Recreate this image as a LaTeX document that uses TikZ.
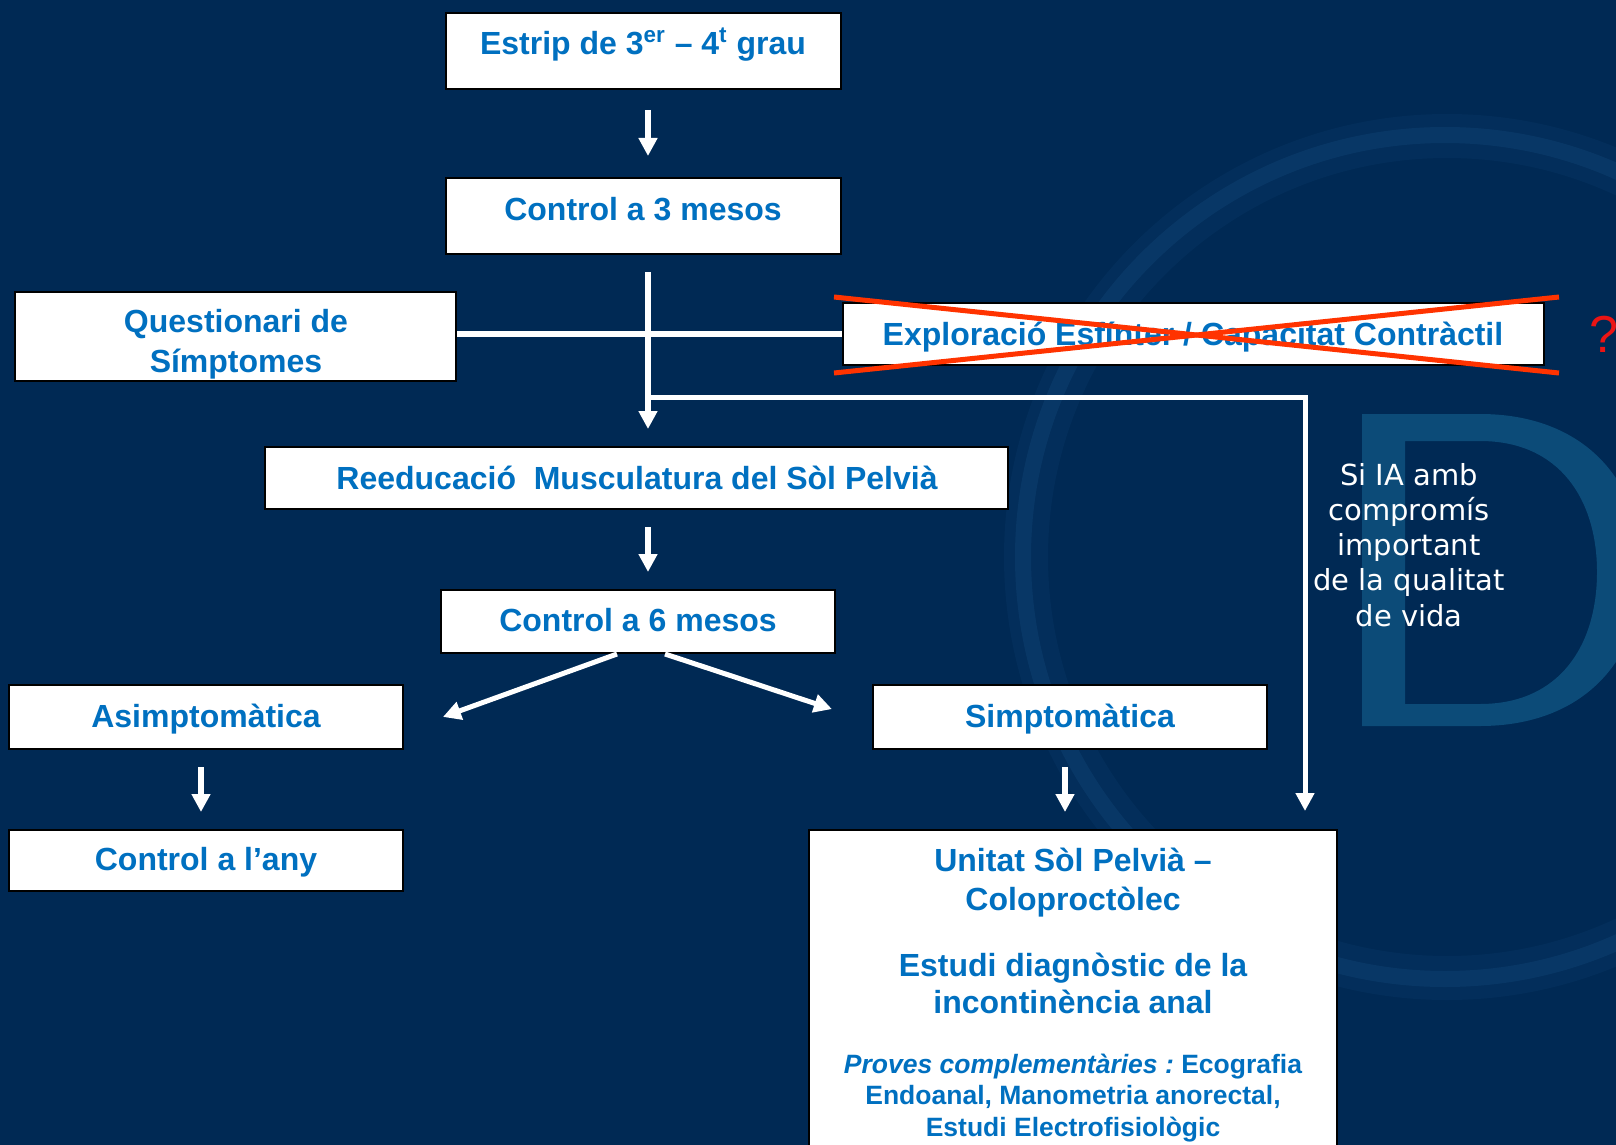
\documentclass[tikz,border=0pt]{standalone}
\usepackage{fontspec}
\setmainfont{Liberation Sans}
\newfontfamily\dejavu{DejaVu Sans}
\usetikzlibrary{arrows.meta}
\definecolor{bgnavy}{RGB}{0,41,84}
\definecolor{tblue}{RGB}{0,112,192}
\definecolor{xred}{RGB}{255,51,0}
\definecolor{qred}{RGB}{235,20,20}
\definecolor{ringc}{RGB}{45,115,175}
\definecolor{dcol}{RGB}{12,75,120}
\begin{document}
\begin{tikzpicture}[x=0.5pt,y=-0.5pt,
  box/.style={draw=black,line width=1pt,fill=white,inner sep=0pt},
  lbl/.style={text=tblue,font=\bfseries\fontsize{16}{19}\selectfont,anchor=base,inner sep=0pt},
  sml/.style={text=tblue,font=\bfseries\fontsize{13.25}{16}\selectfont,anchor=base,inner sep=0pt},
  note/.style={text=white,font=\dejavu\fontsize{14.5}{17.5}\selectfont,anchor=base,inner sep=0pt},
  arr/.style={draw=white,line width=3pt,-{Triangle[length=9pt,width=9pt]}},
  arrd/.style={draw=white,line width=2.5pt,-{Triangle[length=9pt,width=9pt]}},
  wline/.style={draw=white,line width=3pt},
  cross/.style={draw=xred,line width=2.5pt}]
\useasboundingbox (0,0) rectangle (1616,1145);
\clip (0,0) rectangle (1616,1145);
\fill[bgnavy] (0,0) rectangle (1616,1145);
% background logo: soft ring and letter shape
\draw[ringc,opacity=0.08,line width=22pt] (1447,557) circle[radius=210.5pt];
\draw[ringc,opacity=0.14,line width=8pt] (1445,557) circle[radius=211pt];
\fill[dcol,even odd rule]
  (1362,414) -- (1480,414) .. controls (1585,414) and (1642,482) .. (1642,570)
  .. controls (1642,658) and (1585,726) .. (1480,726) -- (1362,726) -- cycle
  (1405,441) -- (1480,441) .. controls (1560,441) and (1597,500) .. (1597,572)
  .. controls (1597,645) and (1560,704) .. (1480,704) -- (1405,704) -- cycle;
% guide coordinates
\coordinate (vx) at (648,0);
\coordinate (rx) at (1305,0);
\coordinate (j1) at (648,397);
% boxes
\node[box,minimum width=197.5pt,minimum height=38pt] (b1) at (643.5,51) {};
\node[box,minimum width=197.5pt,minimum height=38pt] (b2) at (643.5,216) {};
\node[box,minimum width=220.5pt,minimum height=44.5pt] (bq) at (235.5,336.5) {};
\node[box,minimum width=350.5pt,minimum height=31pt] (be) at (1193.5,334) {};
\node[box,minimum width=371.5pt,minimum height=31pt] (br) at (636.5,478) {};
\node[box,minimum width=197pt,minimum height=31.5pt] (b6) at (638,621.5) {};
\node[box,minimum width=197pt,minimum height=32pt] (ba) at (206,717) {};
\node[box,minimum width=197pt,minimum height=32pt] (bs) at (1070,717) {};
\node[box,minimum width=197pt,minimum height=30.5pt] (bc) at (206,860.5) {};
\node[box,minimum width=264pt,minimum height=165pt] (bu) at (1073,995) {};
% texts
\node[lbl] (t1) at (643,55) {Estrip de 3\textsuperscript{er} – 4\textsuperscript{t} grau};
\node[lbl] (t2) at (643,220) {Control a 3 mesos};
\node[lbl] (tq1) at (236,332) {Questionari de};
\node[lbl] (tq2) at (236,372) {Símptomes};
\node[lbl] (te) at (1193,345) {Exploració Esfínter / Capacitat Contràctil};
\node[lbl] (tr) at (637,489) {Reeducació\ \ Musculatura del Sòl Pelvià};
\node[lbl] (t6) at (638,631) {Control a 6 mesos};
\node[lbl] (ta) at (206,727) {Asimptomàtica};
\node[lbl] (ts) at (1070,727) {Simptomàtica};
\node[lbl] (tc) at (206,870) {Control a l’any};
\node[lbl] (u1) at (1073,871) {Unitat Sòl Pelvià –};
\node[lbl] (u2) at (1073,910) {Coloproctòlec};
\node[lbl] (u3) at (1073,976) {Estudi diagnòstic de la};
\node[lbl] (u4) at (1073,1013) {incontinència anal};
\node[sml] (u5) at (1073,1073) {{\itshape Proves complementàries :}\ Ecografia};
\node[sml] (u6) at (1073,1104) {Endoanal, Manometria anorectal,};
\node[sml] (u7) at (1073,1136) {Estudi Electrofisiològic};
\node[note] (s1) at (1409,485) {Si IA amb};
\node[note] (s2) at (1409,520) {compromís};
\node[note] (s3) at (1409,555) {important};
\node[note] (s4) at (1409,590) {de la qualitat};
\node[note] (s5) at (1409,626) {de vida};
\node[anchor=base west,inner sep=0pt,text=qred,font=\fontsize{26}{30}\selectfont] (qm) at (1589,352) {?};
% red cross
\draw[cross] (834,297) -- (1559,373);
\draw[cross] (834,373) -- (1559,297);
% connectors
\draw[arr,shorten <=10pt,shorten >=10.5pt] ([xshift=2.25pt]b1.south) -- ([xshift=2.25pt]b2.north);
\draw[wline] (be.west -| bq.east) -- (be.west);
\draw[arr,shorten <=8.5pt,shorten >=8.5pt] (b2.south -| vx) -- (br.north -| vx);
\draw[arrd,shorten >=9pt] (j1) -| (bu.north -| rx);
\draw[arr,shorten <=8.5pt,shorten >=8.5pt] (br.south -| vx) -- (b6.north -| vx);
\draw[arrd,shorten >=20.7pt] ([xshift=-10.5pt]b6.south) -- ([yshift=-7pt]ba.east);
\draw[arrd,shorten >=21.1pt] ([xshift=13.5pt]b6.south) -- ([yshift=-2.65pt]bs.west);
\draw[arr,shorten <=8.5pt,shorten >=8.5pt] ([xshift=-2.5pt]ba.south) -- ([xshift=-2.5pt]bc.north);
\draw[arr,shorten <=8.5pt,shorten >=8.5pt] ([xshift=-2.5pt]bs.south) -- ([xshift=-2.5pt]bu.north -| bs.south);
\end{tikzpicture}
\end{document}
